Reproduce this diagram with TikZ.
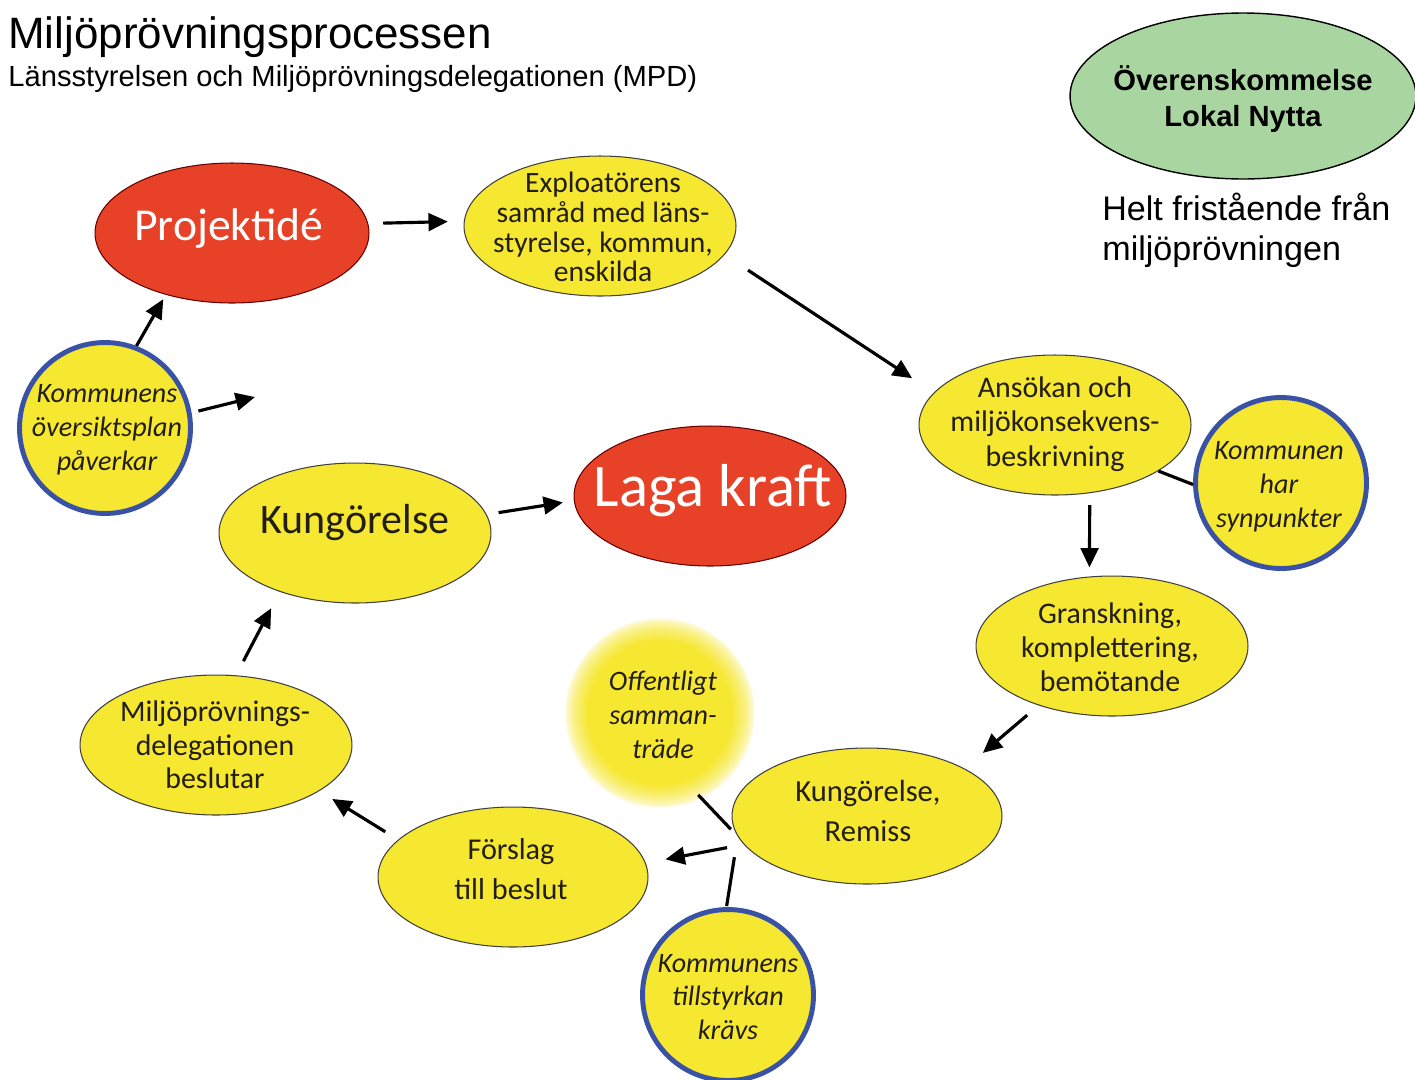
\documentclass[tikz,border=0pt]{standalone}
\usepackage{fontspec}
\setmainfont{Carlito}
\newfontfamily\arialfont{Liberation Sans}
\usetikzlibrary{shapes.geometric,arrows.meta}
\definecolor{yel}{RGB}{246,231,48}
\definecolor{redf}{RGB}{231,65,40}
\definecolor{grn}{RGB}{169,213,160}
\definecolor{blu}{RGB}{58,82,165}
\definecolor{txtc}{RGB}{35,30,20}
\begin{document}
\begin{tikzpicture}[x=0.02cm,y=-0.02cm,
  ell/.style={ellipse, minimum width=5.44cm, minimum height=2.8cm, inner sep=0pt, draw=black!75, line width=0.6pt, fill=yel},
  redell/.style={ell, fill=redf, draw=red!40!black},
  ring/.style={circle, minimum size=3.42cm, inner sep=0pt, fill=yel, draw=blu, line width=2.8pt},
  lbl/.style={align=center, text=txtc, inner sep=0pt},
  ilbl/.style={lbl, font=\itshape\fontsize{16}{19.3}\selectfont},
  arr/.style={line width=1.8pt, -{Triangle[length=11pt,width=10pt]}},
  con/.style={line width=1.8pt},
]
\useasboundingbox (0,0) rectangle (1415,1079);
\fill[white] (0,0) rectangle (1415,1079);

% titles
\node[anchor=west, inner sep=0pt, font=\arialfont\fontsize{25}{28}\selectfont] (title) at (8,37) {Miljöprövningsprocessen};
\node[anchor=west, inner sep=0pt, font=\arialfont\fontsize{16.6}{19}\selectfont] (subtitle) at (8,79) {Länsstyrelsen och Miljöprövningsdelegationen (MPD)};

% agreement
\node[ellipse, minimum width=6.92cm, minimum height=3.32cm, inner sep=0pt, fill=grn, draw=black, line width=0.8pt] (agr) at (1243,96) {};
\node[align=center, inner sep=0pt, font=\arialfont\bfseries\fontsize{16.6}{20.5}\selectfont] (agr-t) at (1243,99) {Överenskommelse\\Lokal Nytta};
\node[anchor=west, align=left, inner sep=0pt, font=\arialfont\fontsize{19.4}{22.7}\selectfont] (free-t) at (1102,230) {Helt fristående från\\miljöprövningen};

% glow
\foreach \k in {0,...,16}{
  \pgfmathsetmacro\pc{100*(\k/16)^0.6}
  \fill[yel!\pc!white] (660,713) circle[radius={96-1.5*\k}];
}
\node[circle, minimum size=3.6cm, inner sep=0pt] (off) at (660,713) {};
\node[ilbl] (off-t) at (663,715) {Offentligt\\samman-\\träde};

% main ellipses
\node[redell, minimum width=5.48cm] (proj) at (232,233) {};
\node[lbl, text=white, font=\fontsize{26}{28}\selectfont] (proj-t) at (229,229) {Projektidé};

\node[ell] (expl) at (600,226) {};
\node[lbl, font=\fontsize{16.8}{17}\selectfont] (expl-t) at (603,227) {Exploatörens\\samråd med läns-\\styrelse, kommun,\\enskilda};

\node[ell] (ans) at (1055,425) {};
\node[lbl, font=\fontsize{17}{19.5}\selectfont] (ans-t) at (1055,424) {Ansökan och\\miljökonsekvens-\\beskrivning};

\node[ell] (gran) at (1112,646) {};
\node[lbl, font=\fontsize{17}{19.5}\selectfont] (gran-t) at (1110,647) {Granskning,\\komplettering,\\bemötande};

\node[ell, minimum width=5.4cm, minimum height=2.72cm] (kr) at (867,816) {};
\node[lbl, font=\fontsize{17.4}{23.2}\selectfont] (kr-t) at (868,811) {Kungörelse,\\Remiss};

\node[ell, minimum width=5.4cm] (fors) at (513,877) {};
\node[lbl, font=\fontsize{17.2}{23.2}\selectfont] (fors-t) at (511,869) {Förslag\\till beslut};

\node[ell] (mpd) at (216,745) {};
\node[lbl, font=\fontsize{17}{19}\selectfont] (mpd-t) at (215,745) {Miljöprövnings-\\delegationen\\beslutar};

\node[ell] (kung) at (355,533) {};
\node[lbl, font=\fontsize{23.9}{26}\selectfont] (kung-t) at (355,523) {Kungörelse};

\node[redell] (laga) at (710,496) {};
\node[lbl, text=white, font=\fontsize{34.5}{36}\selectfont] (laga-t) at (713,491) {Laga kraft};

% rings
\node[ring] (opl) at (105,428) {};
\node[ilbl] (opl-t) at (107,430) {Kommunens\\översiktsplan\\påverkar};
\node[ring] (syn) at (1281,483) {};
\node[ilbl] (syn-t) at (1279,487) {Kommunen\\har\\synpunkter};
\node[ring] (till) at (728,995) {};
\node[ilbl] (till-t) at (728,997) {Kommunens\\tillstyrkan\\krävs};

% connectors
\draw[arr, shorten <=0.3cm, shorten >=0.32cm] (proj.4) -- (expl.178);
\draw[arr, shorten <=0.56cm, shorten >=0.52cm] (expl.-13) -- (ans.165);
\draw[arr, shorten <=0.24cm, shorten >=0.18cm] (ans.-63) -- (gran.108);
\draw[arr, shorten <=0.3cm, shorten >=0.48cm] (gran.219) -- (kr.26);
\draw[arr, shorten <=0.34cm, shorten >=0.4cm] (kr.193) -- (fors.6);
\draw[con, shorten >=0.2cm] (off.-65) -- (kr.189);
\draw[con, shorten <=0.02cm, shorten >=0.42cm] (till.91) -- (kr.189);
\draw[arr, shorten <=0.3cm, shorten >=0.3cm] (fors.162) -- (mpd.-24);
\draw[arr, shorten <=0.32cm, shorten >=0.37cm] (mpd.74) -- (kung.218);
\draw[arr, shorten <=0.24cm, shorten >=0.22cm] (kung.8) -- (laga.182);
\draw[arr, shorten >=0.1cm] (opl.69) -- (proj.223);
\coordinate (free) at (255,397);
\draw[arr, shorten <=0.14cm] (opl.10) -- (free);
\draw[con] (ans.-24) -- (syn.181);
\end{tikzpicture}
\end{document}
